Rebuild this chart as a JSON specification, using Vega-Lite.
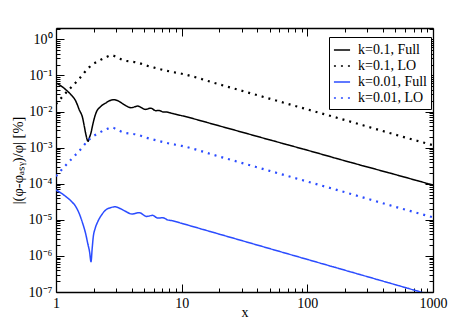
{
  "$schema": "https://vega.github.io/schema/vega-lite/v6.json",
  "width": 377,
  "height": 264,
  "autosize": {"type": "none"},
  "padding": {"left": 56, "top": 28, "right": 31, "bottom": 29},
  "background": "white",
  "config": {"view": {"stroke": null}, "font": "Liberation Serif"},
  "datasets": {
    "curves": [
      {"series": "k=0.1, Full", "x": 1, "y": 0.062},
      {"series": "k=0.1, Full", "x": 1.1, "y": 0.051},
      {"series": "k=0.1, Full", "x": 1.2, "y": 0.040},
      {"series": "k=0.1, Full", "x": 1.32, "y": 0.029},
      {"series": "k=0.1, Full", "x": 1.44, "y": 0.0192},
      {"series": "k=0.1, Full", "x": 1.53, "y": 0.0113},
      {"series": "k=0.1, Full", "x": 1.63, "y": 0.0066},
      {"series": "k=0.1, Full", "x": 1.68, "y": 0.0039},
      {"series": "k=0.1, Full", "x": 1.73, "y": 0.0023},
      {"series": "k=0.1, Full", "x": 1.80, "y": 0.0015},
      {"series": "k=0.1, Full", "x": 1.84, "y": 0.00185},
      {"series": "k=0.1, Full", "x": 1.90, "y": 0.0026},
      {"series": "k=0.1, Full", "x": 1.96, "y": 0.0043},
      {"series": "k=0.1, Full", "x": 2.02, "y": 0.0066},
      {"series": "k=0.1, Full", "x": 2.08, "y": 0.0091},
      {"series": "k=0.1, Full", "x": 2.28, "y": 0.014},
      {"series": "k=0.1, Full", "x": 2.5, "y": 0.0175},
      {"series": "k=0.1, Full", "x": 2.75, "y": 0.0208},
      {"series": "k=0.1, Full", "x": 2.91, "y": 0.0213},
      {"series": "k=0.1, Full", "x": 3.15, "y": 0.0195},
      {"series": "k=0.1, Full", "x": 3.49, "y": 0.0155},
      {"series": "k=0.1, Full", "x": 3.95, "y": 0.0128},
      {"series": "k=0.1, Full", "x": 4.47, "y": 0.0142},
      {"series": "k=0.1, Full", "x": 5.13, "y": 0.0115},
      {"series": "k=0.1, Full", "x": 5.7, "y": 0.0124},
      {"series": "k=0.1, Full", "x": 6.2, "y": 0.0106},
      {"series": "k=0.1, Full", "x": 6.63, "y": 0.0107},
      {"series": "k=0.1, Full", "x": 7.1, "y": 0.0098},
      {"series": "k=0.1, Full", "x": 7.6, "y": 0.0097},
      {"series": "k=0.1, Full", "x": 8.5, "y": 0.0088},
      {"series": "k=0.1, Full", "x": 10, "y": 0.0077},
      {"series": "k=0.1, Full", "x": 20, "y": 0.0040},
      {"series": "k=0.1, Full", "x": 50, "y": 0.00165},
      {"series": "k=0.1, Full", "x": 100, "y": 0.00085},
      {"series": "k=0.1, Full", "x": 200, "y": 0.00043},
      {"series": "k=0.1, Full", "x": 500, "y": 0.00018},
      {"series": "k=0.1, Full", "x": 1000, "y": 0.000092},

      {"series": "k=0.01, Full", "x": 1, "y": 6.7e-5},
      {"series": "k=0.01, Full", "x": 1.1, "y": 5.5e-5},
      {"series": "k=0.01, Full", "x": 1.2, "y": 4.4e-5},
      {"series": "k=0.01, Full", "x": 1.32, "y": 3.3e-5},
      {"series": "k=0.01, Full", "x": 1.44, "y": 2.3e-5},
      {"series": "k=0.01, Full", "x": 1.53, "y": 1.5e-5},
      {"series": "k=0.01, Full", "x": 1.63, "y": 8.0e-6},
      {"series": "k=0.01, Full", "x": 1.72, "y": 4.2e-6},
      {"series": "k=0.01, Full", "x": 1.79, "y": 2.2e-6},
      {"series": "k=0.01, Full", "x": 1.85, "y": 1.3e-6},
      {"series": "k=0.01, Full", "x": 1.90, "y": 6.9e-7},
      {"series": "k=0.01, Full", "x": 1.94, "y": 1.6e-6},
      {"series": "k=0.01, Full", "x": 1.98, "y": 3.4e-6},
      {"series": "k=0.01, Full", "x": 2.05, "y": 5.8e-6},
      {"series": "k=0.01, Full", "x": 2.15, "y": 8.9e-6},
      {"series": "k=0.01, Full", "x": 2.3, "y": 1.35e-5},
      {"series": "k=0.01, Full", "x": 2.5, "y": 1.9e-5},
      {"series": "k=0.01, Full", "x": 2.75, "y": 2.2e-5},
      {"series": "k=0.01, Full", "x": 2.96, "y": 2.3e-5},
      {"series": "k=0.01, Full", "x": 3.2, "y": 2.1e-5},
      {"series": "k=0.01, Full", "x": 3.49, "y": 1.8e-5},
      {"series": "k=0.01, Full", "x": 4.03, "y": 1.45e-5},
      {"series": "k=0.01, Full", "x": 4.6, "y": 1.58e-5},
      {"series": "k=0.01, Full", "x": 5.26, "y": 1.24e-5},
      {"series": "k=0.01, Full", "x": 5.87, "y": 1.33e-5},
      {"series": "k=0.01, Full", "x": 6.44, "y": 1.12e-5},
      {"series": "k=0.01, Full", "x": 7.1, "y": 1.14e-5},
      {"series": "k=0.01, Full", "x": 7.7, "y": 1.0e-5},
      {"series": "k=0.01, Full", "x": 8.5, "y": 9.4e-6},
      {"series": "k=0.01, Full", "x": 10, "y": 8.0e-6},
      {"series": "k=0.01, Full", "x": 20, "y": 4.0e-6},
      {"series": "k=0.01, Full", "x": 50, "y": 1.6e-6},
      {"series": "k=0.01, Full", "x": 100, "y": 8.0e-7},
      {"series": "k=0.01, Full", "x": 200, "y": 4.0e-7},
      {"series": "k=0.01, Full", "x": 500, "y": 1.6e-7},
      {"series": "k=0.01, Full", "x": 1000, "y": 8.0e-8},

      {"series": "k=0.1, LO", "x": 1, "y": 0.0162},
      {"series": "k=0.1, LO", "x": 1.1, "y": 0.0238},
      {"series": "k=0.1, LO", "x": 1.28, "y": 0.042},
      {"series": "k=0.1, LO", "x": 1.53, "y": 0.081},
      {"series": "k=0.1, LO", "x": 1.84, "y": 0.17},
      {"series": "k=0.1, LO", "x": 2.21, "y": 0.26},
      {"series": "k=0.1, LO", "x": 2.5, "y": 0.32},
      {"series": "k=0.1, LO", "x": 2.77, "y": 0.363},
      {"series": "k=0.1, LO", "x": 3.1, "y": 0.31},
      {"series": "k=0.1, LO", "x": 3.49, "y": 0.26},
      {"series": "k=0.1, LO", "x": 3.9, "y": 0.245},
      {"series": "k=0.1, LO", "x": 4.41, "y": 0.23},
      {"series": "k=0.1, LO", "x": 5.2, "y": 0.19},
      {"series": "k=0.1, LO", "x": 6.25, "y": 0.16},
      {"series": "k=0.1, LO", "x": 8, "y": 0.13},
      {"series": "k=0.1, LO", "x": 10, "y": 0.112},
      {"series": "k=0.1, LO", "x": 20, "y": 0.0565},
      {"series": "k=0.1, LO", "x": 50, "y": 0.0228},
      {"series": "k=0.1, LO", "x": 100, "y": 0.0115},
      {"series": "k=0.1, LO", "x": 200, "y": 0.0058},
      {"series": "k=0.1, LO", "x": 500, "y": 0.0023},
      {"series": "k=0.1, LO", "x": 1000, "y": 0.00117},

      {"series": "k=0.01, LO", "x": 1, "y": 0.000162},
      {"series": "k=0.01, LO", "x": 1.1, "y": 0.000238},
      {"series": "k=0.01, LO", "x": 1.28, "y": 0.00042},
      {"series": "k=0.01, LO", "x": 1.53, "y": 0.00081},
      {"series": "k=0.01, LO", "x": 1.84, "y": 0.0017},
      {"series": "k=0.01, LO", "x": 2.21, "y": 0.0026},
      {"series": "k=0.01, LO", "x": 2.5, "y": 0.0032},
      {"series": "k=0.01, LO", "x": 2.77, "y": 0.00363},
      {"series": "k=0.01, LO", "x": 3.1, "y": 0.0031},
      {"series": "k=0.01, LO", "x": 3.49, "y": 0.0026},
      {"series": "k=0.01, LO", "x": 3.9, "y": 0.00245},
      {"series": "k=0.01, LO", "x": 4.41, "y": 0.0023},
      {"series": "k=0.01, LO", "x": 5.2, "y": 0.0019},
      {"series": "k=0.01, LO", "x": 6.25, "y": 0.0016},
      {"series": "k=0.01, LO", "x": 8, "y": 0.0013},
      {"series": "k=0.01, LO", "x": 10, "y": 0.00112},
      {"series": "k=0.01, LO", "x": 20, "y": 0.000565},
      {"series": "k=0.01, LO", "x": 50, "y": 0.000228},
      {"series": "k=0.01, LO", "x": 100, "y": 0.000115},
      {"series": "k=0.01, LO", "x": 200, "y": 0.000058},
      {"series": "k=0.01, LO", "x": 500, "y": 0.000023},
      {"series": "k=0.01, LO", "x": 1000, "y": 0.0000117}
    ]
  },
  "data": {"name": "curves"},
  "resolve": {"axis": {"x": "independent", "y": "independent"}},
  "layer": [
    {
      "transform": [{"filter": "indexof(datum.series, 'Full') >= 0"}],
      "mark": {"type": "line", "interpolate": "monotone", "strokeWidth": 1.5, "clip": true},
      "encoding": {
        "x": {
          "field": "x", "type": "quantitative",
          "scale": {"type": "log", "domain": [1, 1000], "nice": false},
          "axis": {
            "orient": "bottom",
            "values": [1,2,3,4,5,6,7,8,9,10,20,30,40,50,60,70,80,90,100,200,300,400,500,600,700,800,900,1000],
            "tickSize": {"condition": {"test": "abs(log(datum.value)/LN10 - round(log(datum.value)/LN10)) < 0.000001", "value": -8}, "value": -4},
            "tickColor": "black", "tickWidth": 1,
            "domainColor": "black", "domainWidth": 1.3,
            "grid": false,
            "labelExpr": "abs(log(datum.value)/LN10 - round(log(datum.value)/LN10)) < 0.000001 ? format(datum.value, 'd') : ''",
            "labelFont": "Liberation Serif", "labelFontSize": 14, "labelColor": "black",
            "labelPadding": 12, "labelOverlap": false, "labelFlush": false, "labelBound": false,
            "title": "x", "titleFont": "Liberation Serif", "titleFontSize": 14, "titleFontWeight": "normal", "titleColor": "black", "titlePadding": -9
          }
        },
        "y": {
          "field": "y", "type": "quantitative",
          "scale": {"type": "log", "domain": [1e-7, 2.07], "nice": false},
          "axis": {
            "orient": "left",
            "values": [1e-7,2e-7,3e-7,4e-7,5e-7,6e-7,7e-7,8e-7,9e-7,1e-6,2e-6,3e-6,4e-6,5e-6,6e-6,7e-6,8e-6,9e-6,1e-5,2e-5,3e-5,4e-5,5e-5,6e-5,7e-5,8e-5,9e-5,1e-4,2e-4,3e-4,4e-4,5e-4,6e-4,7e-4,8e-4,9e-4,0.001,0.002,0.003,0.004,0.005,0.006,0.007,0.008,0.009,0.01,0.02,0.03,0.04,0.05,0.06,0.07,0.08,0.09,0.1,0.2,0.3,0.4,0.5,0.6,0.7,0.8,0.9,1,2],
            "tickSize": {"condition": {"test": "abs(log(datum.value)/LN10 - round(log(datum.value)/LN10)) < 0.000001", "value": -8}, "value": -4},
            "tickColor": "black", "tickWidth": 1,
            "domainColor": "black", "domainWidth": 1.3,
            "grid": false,
            "labelExpr": "abs(log(datum.value)/LN10 - round(log(datum.value)/LN10)) < 0.000001 ? ['10⁰','10⁻¹','10⁻²','10⁻³','10⁻⁴','10⁻⁵','10⁻⁶','10⁻⁷'][abs(round(log(datum.value)/LN10))] : ''",
            "labelFont": "Liberation Serif", "labelFontSize": 14, "labelColor": "black",
            "labelPadding": 12, "labelOverlap": false, "labelFlush": false, "labelBound": false,
            "title": "|(φ-φₐₛᵧ)/φ| [%]", "titleFont": "Liberation Serif", "titleFontSize": 14.5, "titleFontWeight": "normal", "titleColor": "black", "titlePadding": 3
          }
        },
        "color": {
          "field": "series", "type": "nominal",
          "scale": {"domain": ["k=0.1, Full", "k=0.1, LO", "k=0.01, Full", "k=0.01, LO"], "range": ["#000000", "#000000", "#2b4cff", "#2b4cff"]},
          "legend": {
            "orient": "none", "legendX": 273, "legendY": 9,
            "title": null, "strokeColor": "black", "fillColor": "white", "padding": 4,
            "symbolType": "stroke", "symbolSize": 260, "symbolStrokeWidth": 1.6,
            "labelFont": "Liberation Serif", "labelFontSize": 14, "labelColor": "black",
            "labelOffset": 7, "rowPadding": -1, "cornerRadius": 0
          }
        },
        "strokeDash": {
          "field": "series", "type": "nominal",
          "scale": {"domain": ["k=0.1, Full", "k=0.1, LO", "k=0.01, Full", "k=0.01, LO"], "range": [[1, 0], [2, 5], [1, 0], [2, 5]]}
        }
      }
    },
    {
      "transform": [{"filter": "indexof(datum.series, 'LO') >= 0"}],
      "mark": {"type": "line", "interpolate": "monotone", "strokeWidth": 2.2, "clip": true},
      "encoding": {
        "x": {"field": "x", "type": "quantitative", "scale": {"type": "log", "domain": [1, 1000], "nice": false}, "axis": null},
        "y": {"field": "y", "type": "quantitative", "scale": {"type": "log", "domain": [1e-7, 2.07], "nice": false}, "axis": null},
        "color": {"field": "series", "type": "nominal", "scale": {"domain": ["k=0.1, Full", "k=0.1, LO", "k=0.01, Full", "k=0.01, LO"], "range": ["#000000", "#000000", "#2b4cff", "#2b4cff"]}},
        "strokeDash": {"field": "series", "type": "nominal", "scale": {"domain": ["k=0.1, Full", "k=0.1, LO", "k=0.01, Full", "k=0.01, LO"], "range": [[1, 0], [2, 5], [1, 0], [2, 5]]}}
      }
    },
    {
      "mark": {"type": "point", "opacity": 0, "size": 1},
      "encoding": {
        "x": {
          "field": "x", "type": "quantitative",
          "scale": {"type": "log", "domain": [1, 1000], "nice": false},
          "axis": {
            "orient": "top",
            "values": [1,2,3,4,5,6,7,8,9,10,20,30,40,50,60,70,80,90,100,200,300,400,500,600,700,800,900,1000],
            "tickSize": {"condition": {"test": "abs(log(datum.value)/LN10 - round(log(datum.value)/LN10)) < 0.000001", "value": -8}, "value": -4},
            "tickColor": "black", "tickWidth": 1,
            "domainColor": "black", "domainWidth": 1.3,
            "grid": false, "labels": false, "title": null
          }
        },
        "y": {
          "field": "y", "type": "quantitative",
          "scale": {"type": "log", "domain": [1e-7, 2.07], "nice": false},
          "axis": {
            "orient": "right",
            "values": [1e-7,2e-7,3e-7,4e-7,5e-7,6e-7,7e-7,8e-7,9e-7,1e-6,2e-6,3e-6,4e-6,5e-6,6e-6,7e-6,8e-6,9e-6,1e-5,2e-5,3e-5,4e-5,5e-5,6e-5,7e-5,8e-5,9e-5,1e-4,2e-4,3e-4,4e-4,5e-4,6e-4,7e-4,8e-4,9e-4,0.001,0.002,0.003,0.004,0.005,0.006,0.007,0.008,0.009,0.01,0.02,0.03,0.04,0.05,0.06,0.07,0.08,0.09,0.1,0.2,0.3,0.4,0.5,0.6,0.7,0.8,0.9,1,2],
            "tickSize": {"condition": {"test": "abs(log(datum.value)/LN10 - round(log(datum.value)/LN10)) < 0.000001", "value": -8}, "value": -4},
            "tickColor": "black", "tickWidth": 1,
            "domainColor": "black", "domainWidth": 1.3,
            "grid": false, "labels": false, "title": null
          }
        }
      }
    }
  ]
}
